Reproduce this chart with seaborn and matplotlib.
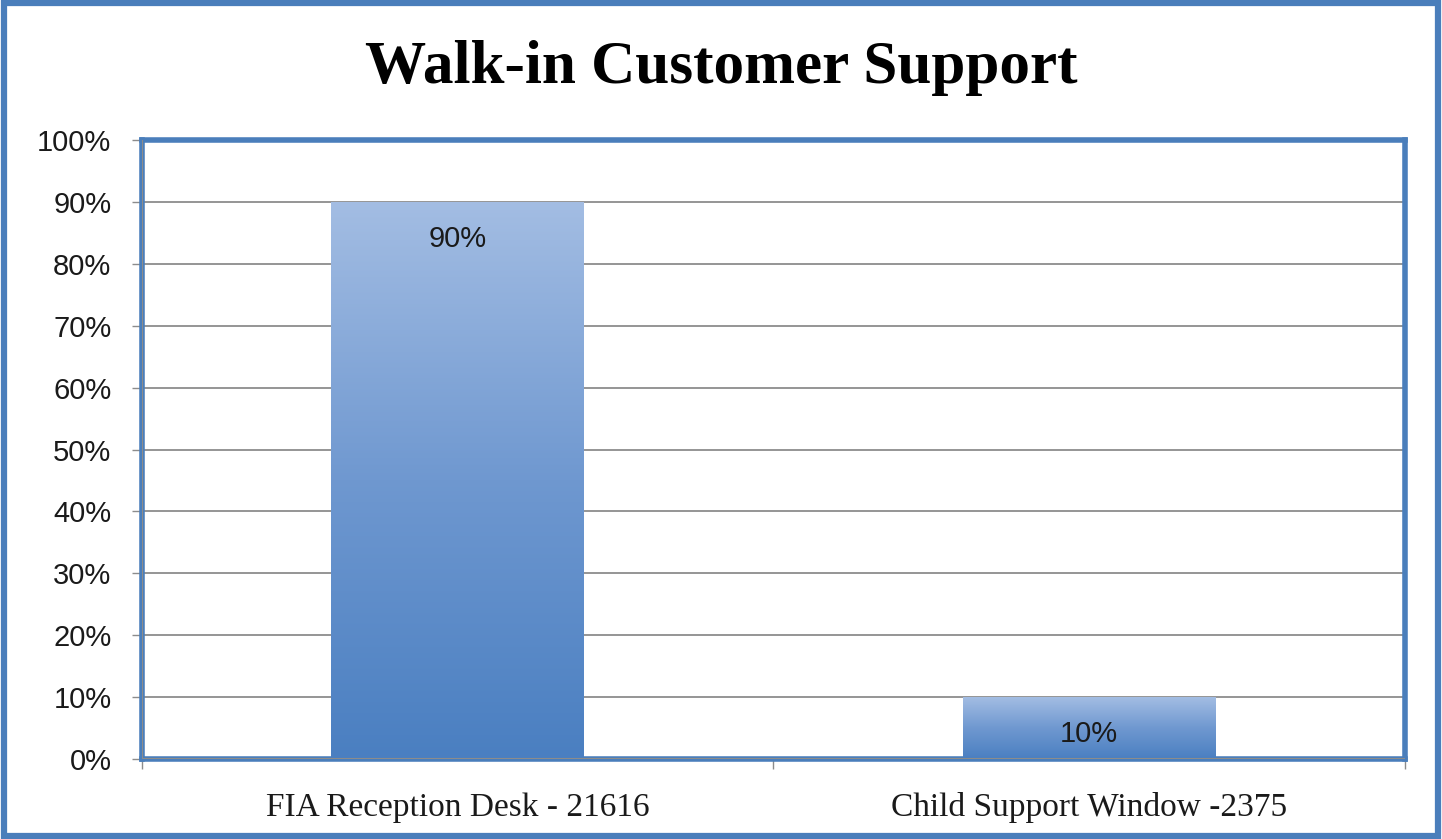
import matplotlib
matplotlib.use("Agg")
import matplotlib.pyplot as plt
import matplotlib.colors as mcolors
from matplotlib.patches import Rectangle
from matplotlib.ticker import FuncFormatter, FixedLocator
import seaborn as sns
import numpy as np
import pandas as pd

# dados
categorias = ["FIA Reception Desk - 21616", "Child Support Window -2375"]
percentuais = [90, 10]
rotulos = ["90%", "10%"]

sns.set_theme(style="white")
plt.rcParams['font.family'] = ['Liberation Sans', 'DejaVu Sans']

df = pd.DataFrame({"local": categorias, "pct": percentuais})

fig = plt.figure(figsize=(14.42, 8.39), dpi=100)
ax = fig.add_axes([0.0985, 0.0953, 0.8758, 0.7378])

sns.barplot(data=df, x="local", y="pct", ax=ax, width=0.4, color="#4a7fc1",
            edgecolor="none", zorder=3)

ax.set_ylim(0, 100)
ax.set_xlim(-0.5, 1.5)
ax.yaxis.set_major_locator(FixedLocator(np.arange(0, 101, 10)))
ax.yaxis.set_major_formatter(FuncFormatter(lambda v, p: f"{v:.0f}%"))
ax.grid(axis="y", color="#8c8c8c", linewidth=1.3, zorder=0)
ax.set_axisbelow(True)

# gradiente nas barras
cmap = mcolors.LinearSegmentedColormap.from_list("grad", ["#4a7fc1", "#6f98d0", "#a3bde3"])
grad = np.linspace(0, 1, 256).reshape(-1, 1)
for patch, txt in zip(ax.patches, rotulos):
    x0, y0 = patch.get_x(), patch.get_y()
    w, h = patch.get_width(), patch.get_height()
    im = ax.imshow(grad, extent=[x0, x0 + w, y0, y0 + h], origin="lower",
                   cmap=cmap, aspect="auto", zorder=4)
    im.set_clip_path(patch)
    ax.annotate(txt, (x0 + w / 2, y0 + h), xytext=(0, -37), textcoords="offset pixels",
                ha="center", va="center", fontsize=21, color="#1a1a1a", zorder=5)
ax.set_xlim(-0.5, 1.5)
ax.set_ylim(0, 100)

# bordas
for s in ax.spines.values():
    s.set_visible(True)
    s.set_color("#4a7ebb")
    s.set_linewidth(4)
ax.axhline(0, color="#8c8c8c", linewidth=1.5, zorder=6)
ax.axvline(-0.5, color="#8c8c8c", linewidth=1.5, zorder=6)

ax.tick_params(axis="y", length=7, width=1, color="#8c8c8c", left=True,
               labelsize=21, labelcolor="#1a1a1a", pad=15)
ax.tick_params(axis="x", length=0, labelsize=24, labelcolor="#1a1a1a", pad=24)
ax.xaxis.set_minor_locator(FixedLocator([-0.5, 0.5, 1.5]))
ax.tick_params(axis="x", which="minor", length=7, width=1, color="#8c8c8c", bottom=True)
for lbl in ax.get_xticklabels():
    lbl.set_family(["Liberation Serif", "DejaVu Serif"])
ax.set_xlabel("")
ax.set_ylabel("")

fig.text(0.5, 0.919, "Walk-in Customer Support", ha="center", va="center",
         fontsize=44, fontweight="bold", family=["Liberation Serif", "DejaVu Serif"],
         color="#000000")

# moldura externa
fig.patches.append(Rectangle((0.003, 0.004), 0.994, 0.992, transform=fig.transFigure,
                             fill=False, edgecolor="#4a7ebb", linewidth=4.5))

fig.savefig("out.png", dpi=100)
